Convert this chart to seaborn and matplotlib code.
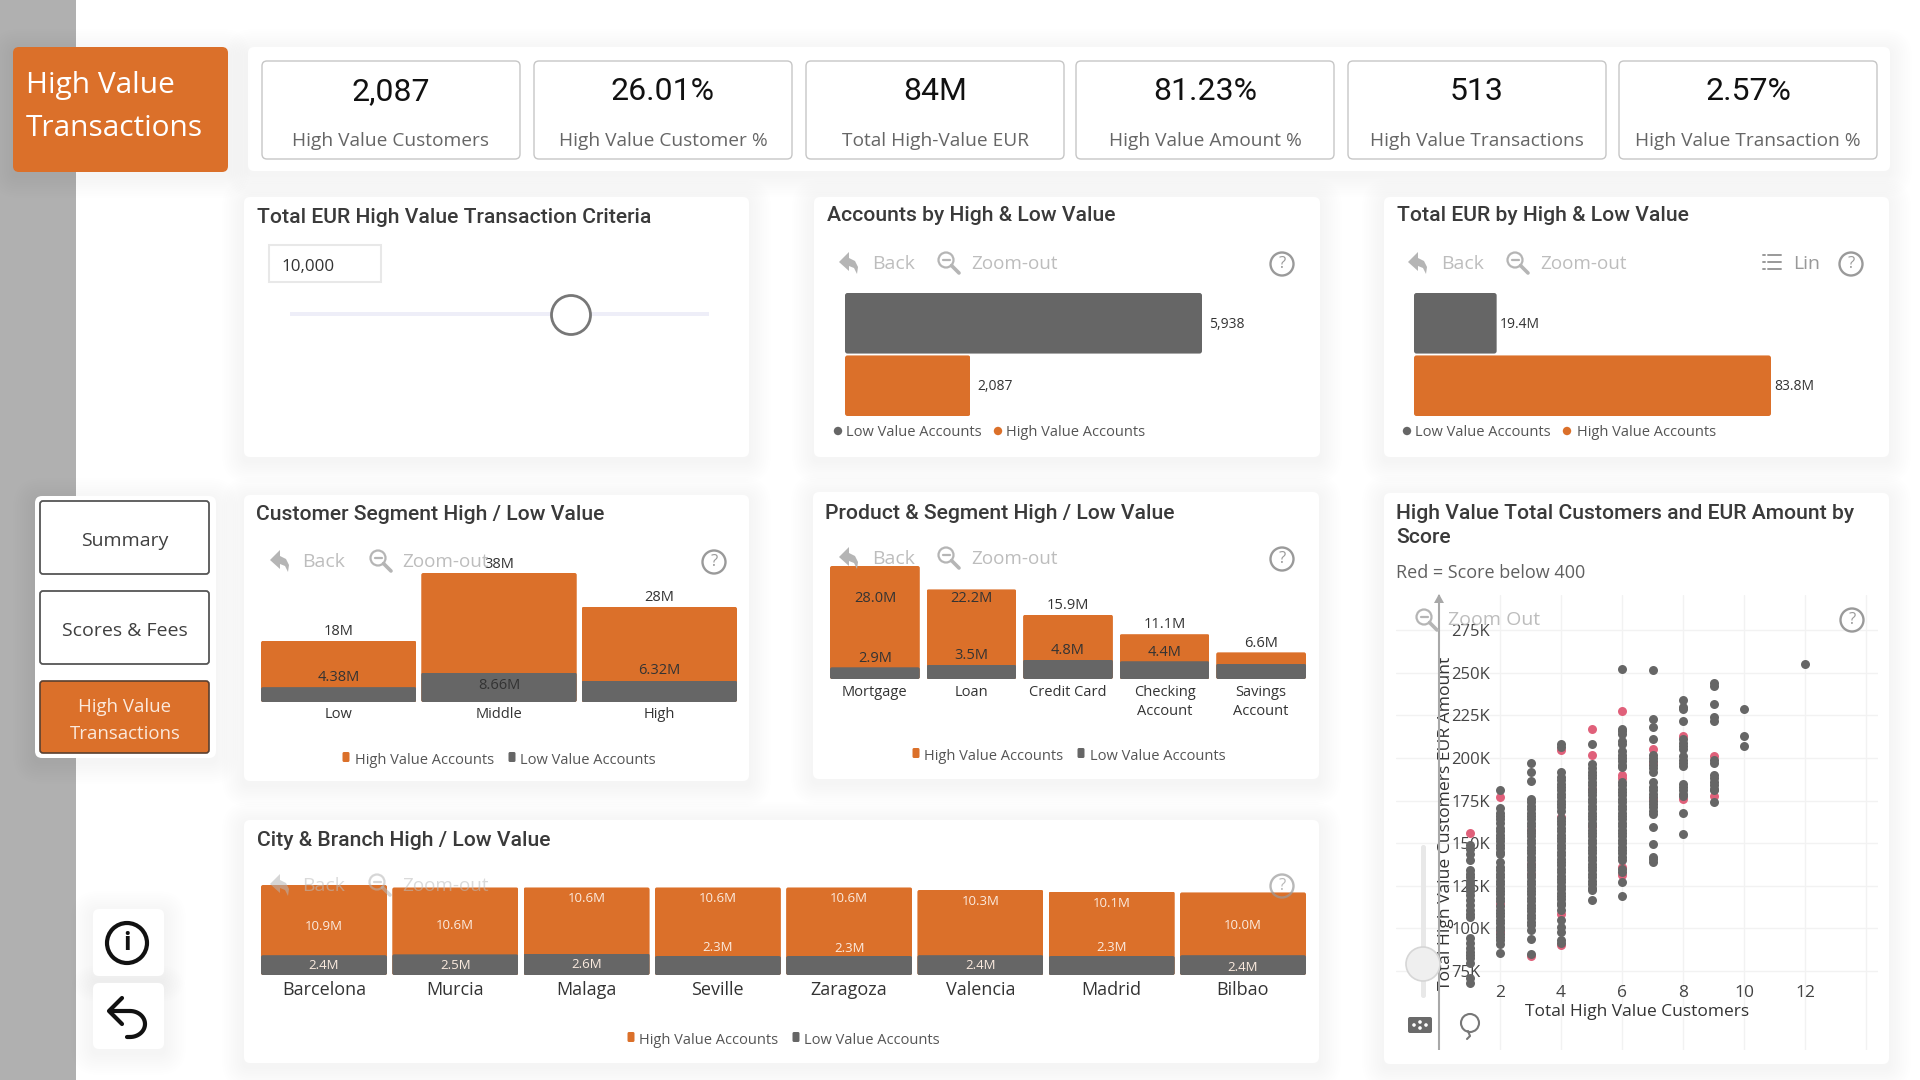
import numpy as np
import pandas as pd
import matplotlib
matplotlib.use("Agg")
import matplotlib.pyplot as plt
from matplotlib.patches import FancyBboxPatch, Circle, Rectangle, Polygon
from matplotlib.transforms import IdentityTransform
import seaborn as sns

# ---------- data ----------
kpi_values = ["2,087", "26.01%", "84M", "81.23%", "513", "2.57%"]
kpi_names = ["High Value Customers", "High Value Customer %", "Total High-Value EUR",
             "High Value Amount %", "High Value Transactions", "High Value Transaction %"]

value_groups = ["Low Value Accounts", "High Value Accounts"]
accounts_by_value = [5938, 2087]
eur_by_value = [19.4, 83.8]

segments = ["Low", "Middle", "High"]
segment_high = [18, 38, 28]
segment_low = [4.38, 8.66, 6.32]

products = ["Mortgage", "Loan", "Credit Card", "Checking\nAccount", "Savings\nAccount"]
product_high = [28.0, 22.2, 15.9, 11.1, 6.6]
product_low = [2.9, 3.5, 4.8, 4.4, 3.8]

cities = ["Barcelona", "Murcia", "Malaga", "Seville", "Zaragoza", "Valencia", "Madrid", "Bilbao"]
city_high = [10.9, 10.6, 10.6, 10.6, 10.6, 10.3, 10.1, 10.0]
city_low = [2.4, 2.5, 2.6, 2.3, 2.3, 2.4, 2.3, 2.4]

# Customer count -> total EUR (thousands), ordinary scores
gray_1 = [148.7, 146.7, 143.8, 139.9, 134, 132, 130, 128, 126, 124, 122, 119.4, 116.5, 113.6,
          110.7, 108.7, 106.4, 94.1, 91.6, 88.3, 86.3, 84.4, 82.4, 79.9, 70.7, 67.8]
gray_2 = [181.4, 170.5, 168, 166, 164, 162, 159, 157, 155, 153, 151, 149, 147, 145, 143.5, 139,
          136, 134, 132, 130, 128, 126, 124, 122, 120, 118, 116, 113, 111, 109, 107, 105, 103,
          101, 99, 97, 95, 93, 91, 85.3]
gray_3 = [197.2, 191.6, 186.5, 176, 174, 172, 170, 168, 166, 164, 162, 160, 158, 156, 154, 152,
          150, 148, 146, 144, 142, 140, 138, 136, 134, 132, 130, 128, 126, 124, 122, 120, 118,
          116, 114, 112, 110, 108, 106, 104, 102, 99, 93.7, 85]
gray_4 = [208.5, 206.5, 191.5, 189, 187, 185, 183, 181, 179, 177, 175, 173, 171, 169, 165, 163,
          161, 159, 157, 155, 153, 151, 149, 147, 145, 143, 141, 139, 137, 135, 133, 131, 129,
          127, 125, 123, 121, 119, 117, 115, 113.6, 110.7, 104.8, 100.9, 98, 93, 91.5]
gray_5 = [208, 196.4, 194, 192, 190, 188, 186, 184, 182, 180, 178, 176, 174, 172, 170, 168, 166,
          164, 162, 160, 158, 156, 154, 152, 150, 148, 146, 144, 142, 140, 138, 136, 134, 132,
          130, 128, 126, 124, 122.4, 116.5]
gray_6 = [252, 217, 216, 214, 210, 208, 204, 202, 200, 198, 196, 194.5, 185.7, 184, 182, 180, 178,
          176, 174, 172, 170, 168, 166, 164, 162, 160, 158, 156, 154, 152, 150, 148, 146, 144,
          142, 140, 135, 133, 127, 119]
gray_7 = [251.6, 222.7, 218, 211, 202, 200, 198, 196, 194, 191.6, 185.7, 183, 181, 179, 177, 175,
          173, 171, 169, 167, 159.8, 149.3, 142, 140.5, 139]
gray_8 = [234, 230, 228.5, 222, 211, 209, 207, 205, 201, 199, 197, 195.5, 185, 183, 181, 179,
          177.5, 168, 155.5]
gray_9 = [244, 242, 231.7, 224, 222, 199, 197, 190, 188, 186, 184, 182, 181, 174]
gray_10 = [228.6, 213, 206.8]
gray_12 = [255.3]

# Same axes, scores below 400
pink_1 = [155.7]
pink_2 = [177.3, 114.6, 98]
pink_3 = [158, 138, 132, 84]
pink_4 = [204.5, 165.5, 108.5, 90.5]
pink_5 = [217, 201.5, 182, 160]
pink_6 = [227.6, 190, 188, 136, 131.5]
pink_7 = [205, 197, 176]
pink_8 = [213, 176]
pink_9 = [201, 177.5]

gray_groups = {1: gray_1, 2: gray_2, 3: gray_3, 4: gray_4, 5: gray_5, 6: gray_6,
               7: gray_7, 8: gray_8, 9: gray_9, 10: gray_10, 12: gray_12}
pink_groups = {1: pink_1, 2: pink_2, 3: pink_3, 4: pink_4, 5: pink_5, 6: pink_6,
               7: pink_7, 8: pink_8, 9: pink_9}

# ---------- styling ----------
ORANGE = "#DB702A"
GRAY = "#666666"
PINK = "#E0607A"
TITLE = "#3A3A3A"
GHOST = "#BDBDBD"

sns.set_theme(style="white")
plt.rcParams["font.family"] = ["Open Sans", "DejaVu Sans"]
HEAD_FONT = ["Roboto", "DejaVu Sans"]

W, H = 1920, 1080
fig = plt.figure(figsize=(W / 100, H / 100), dpi=100, facecolor="white")


def page_axes(z):
    ax = fig.add_axes([0, 0, 1, 1], zorder=z)
    ax.set_xlim(0, W)
    ax.set_ylim(H, 0)
    ax.axis("off")
    ax.patch.set_alpha(0)
    return ax


def chart_axes(left, top, right, bottom, z=3):
    ax = fig.add_axes([left / W, 1 - bottom / H, (right - left) / W, (bottom - top) / H], zorder=z)
    ax.patch.set_alpha(0)
    return ax


back = page_axes(0)
front = page_axes(5)


def card(ax, x0, y0, x1, y1, fc="white", ec="none", lw=0, r=6, shadow=True, z=1):
    if shadow:
        for i in range(10):
            g = 2.2 * (i + 1)
            ax.add_patch(FancyBboxPatch((x0 - g, y0 - g + 4), x1 - x0 + 2 * g, y1 - y0 + 2 * g,
                                        boxstyle=f"round,pad=0,rounding_size={r + g}",
                                        fc="black", ec="none", alpha=0.0045, zorder=z - 0.5))
    ax.add_patch(FancyBboxPatch((x0, y0), x1 - x0, y1 - y0, boxstyle=f"round,pad=0,rounding_size={r}",
                                fc=fc, ec=ec, lw=lw, zorder=z))


def help_icon(x, y, alpha=1.0, c="#9A9A9A"):
    front.add_patch(Circle((x, y), 11.5, fc="none", ec=c, lw=1.7, alpha=alpha))
    front.text(x, y, "?", ha="center", va="center", fontsize=12, color=c, alpha=alpha)


def back_icon(x, y, alpha=1.0):
    pts = [(-10, -1), (0, -11), (0, -5), (6, -2), (9, 4), (8, 11), (5, 5), (0, 3), (0, 8)]
    front.add_patch(Polygon([(x + a, y + b) for a, b in pts], closed=True, fc="#B5B5B5", ec="none", alpha=alpha))


def zoom_icon(x, y, alpha=1.0):
    front.add_patch(Circle((x - 3, y - 3), 7.5, fc="none", ec="#B5B5B5", lw=1.6, alpha=alpha))
    front.plot([x - 6.5, x + 0.5], [y - 3, y - 3], color="#B5B5B5", lw=1.6, alpha=alpha)
    front.plot([x + 2.5, x + 10], [y + 2.5, y + 10], color="#B5B5B5", lw=2.6, alpha=alpha,
               solid_capstyle="round")


def toolbar(xa, xb, xm, xz, xq, y, alpha=1.0):
    back_icon(xa, y, alpha)
    front.text(xb, y + 1, "Back", ha="left", va="center", fontsize=14, color=GHOST, alpha=alpha)
    zoom_icon(xm, y, alpha)
    front.text(xz, y + 1, "Zoom-out", ha="left", va="center", fontsize=13.6, color=GHOST, alpha=alpha)
    help_icon(xq, y + 1, 1 if alpha == 1 else 0.7)


def panel_title(x, y, text):
    back.text(x, y + 1.5, text, ha="left", va="center", fontsize=15.2, color=TITLE,
              family=HEAD_FONT, fontweight="medium", zorder=3)


def legend_row(y, entries, square=False):
    y += 2
    for mx, label, tx, color in entries:
        if square:
            front.add_patch(FancyBboxPatch((mx - 3.5, y - 8), 7, 10, boxstyle="round,pad=0,rounding_size=1.5",
                                           fc=color, ec="none"))
        else:
            front.add_patch(Circle((mx, y - 2), 4.2, fc=color, ec="none"))
        front.text(tx, y, label, ha="left", va="center", fontsize=10.5, color="#555555")


def finish_bars(ax):
    ax.set_xlabel("")
    ax.set_ylabel("")
    sns.despine(ax=ax, left=True, bottom=True)


def round_bars(ax, r=2.5):
    # Softens the bar corners by clipping each bar to a rounded outline at its final size
    renderer = fig.canvas.get_renderer()
    for bar in ax.patches:
        box = bar.get_window_extent(renderer)
        if box.width <= 0 or box.height <= 0:
            continue
        outline = FancyBboxPatch((box.x0, box.y0), box.width, box.height,
                                 boxstyle=f"round,pad=0,rounding_size={r}", transform=IdentityTransform())
        bar.set_clip_path(outline)


# ---------- page furniture ----------
back.add_patch(Rectangle((0, 0), 76, H, fc="#B0B0B0", ec="none", zorder=0.1))

card(back, 13, 47, 228, 172, fc=ORANGE, z=2)
back.text(26, 86, "High Value", fontsize=21.5, color="white", va="center", ha="left", zorder=3)
back.text(26, 128, "Transactions", fontsize=21.5, color="white", va="center", ha="left", zorder=3)

card(back, 248, 47, 1890, 171)
kpi_left = [262, 534, 806, 1076, 1348, 1619]
for x0, val, name in zip(kpi_left, kpi_values, kpi_names):
    card(back, x0, 61, x0 + 258, 159, ec="#C6C6C6", lw=1.0, r=5, shadow=False, z=2)
    back.text(x0 + 129, 92, val, ha="center", va="center", fontsize=23, color="#111111",
              family=HEAD_FONT, zorder=3)
    back.text(x0 + 129, 141, name, ha="center", va="center", fontsize=13.8, color="#666666", zorder=3)

# Navigation
card(back, 35, 496, 216, 758, r=7, z=2)
for y0, y1, label in zip([501, 591], [574, 664], ["Summary", "Scores & Fees"]):
    card(back, 40, y0, 209, y1, ec="#555555", lw=1.3, r=3, shadow=False, z=3)
    back.text(125, (y0 + y1) / 2 + 3, label, ha="center", va="center", fontsize=14, color="#404040", zorder=4)
card(back, 40, 681, 209, 753, fc=ORANGE, ec="#5A4030", lw=1.2, r=3, shadow=False, z=3)
back.text(125, 707, "High Value", ha="center", va="center", fontsize=13.4, color="#FBE9DC", zorder=4)
back.text(125, 734, "Transactions", ha="center", va="center", fontsize=13.4, color="#FBE9DC", zorder=4)

card(back, 93, 909, 164, 976, r=6, z=2)
card(back, 93, 983, 164, 1049, r=6, z=2)
back.add_patch(Circle((127, 943), 20, fc="none", ec="#111111", lw=3, zorder=3))
back.text(127, 944, "i", ha="center", va="center", fontsize=18, color="#111111", fontweight="bold", zorder=4)
# Undo arrow
arc_t = np.linspace(-np.pi / 2, np.pi / 2, 30)
back.plot(130 + 15 * np.cos(arc_t), 1024 + 13 * np.sin(arc_t), color="#111111", lw=3, zorder=4)
back.plot([110, 130], [1011, 1011], color="#111111", lw=3, zorder=4)
back.plot([130, 127], [1037, 1037], color="#111111", lw=3, zorder=4, solid_capstyle="round")
back.plot([122, 109, 122], [998, 1011, 1024], color="#111111", lw=3, zorder=4, solid_capstyle="round")

# Panels
panel_boxes = [(244, 197, 749, 457), (814, 197, 1320, 457), (1384, 197, 1889, 457),
               (244, 495, 749, 781), (813, 492, 1319, 779), (1384, 493, 1889, 1064),
               (244, 820, 1319, 1063)]
for box in panel_boxes:
    card(back, *box)

panel_title(257, 216, "Total EUR High Value Transaction Criteria")
panel_title(827, 214, "Accounts by High & Low Value")
panel_title(1397, 214, "Total EUR by High & Low Value")
panel_title(256, 513, "Customer Segment High / Low Value")
panel_title(825, 512, "Product & Segment High / Low Value")
panel_title(1396, 512, "High Value Total Customers and EUR Amount by")
panel_title(1396, 536, "Score")
panel_title(257, 839, "City & Branch High / Low Value")
back.text(1396, 573.5, "Red = Score below 400", ha="left", va="center", fontsize=13, color="#606060", zorder=3)

# Threshold slider
back.add_patch(Rectangle((269, 245), 112, 37, fc="white", ec="#E8E8E8", lw=1.5, zorder=2))
back.text(281, 267, "10,000", ha="left", va="center", fontsize=12.2, color="#333333", zorder=3)
back.add_patch(Rectangle((290, 312), 419, 4, fc="#EEEEF8", ec="none", zorder=2))
back.add_patch(Circle((571, 315), 19.5, fc="white", ec="#777777", lw=2, zorder=3))

# ---------- accounts by value ----------
ax = chart_axes(845, 293, 1202, 416)
sns.barplot(y=value_groups, x=accounts_by_value, hue=value_groups, palette=[GRAY, ORANGE],
            width=0.97, saturation=1, legend=False, linewidth=0, ax=ax)
ax.set_xlim(0, max(accounts_by_value))
ax.set_ylim(1.485, -0.485)
ax.set_xticks([])
ax.set_yticks([])
finish_bars(ax)
round_bars(ax)
for i, v in enumerate(accounts_by_value):
    ax.annotate(f"{v:,}", (v, i), xytext=(5, -0.7), textcoords="offset points", va="center", ha="left",
                fontsize=10, color="#333333")
toolbar(849, 872, 949, 971, 1282, 263)
legend_row(431, [(838, value_groups[0], 846, GRAY), (998, value_groups[1], 1006, ORANGE)])

# ---------- total EUR by value ----------
ax = chart_axes(1414, 293, 1771, 416)
sns.barplot(y=value_groups, x=eur_by_value, hue=value_groups, palette=[GRAY, ORANGE],
            width=0.97, saturation=1, legend=False, linewidth=0, ax=ax)
ax.set_xlim(0, max(eur_by_value))
ax.set_ylim(1.485, -0.485)
ax.set_xticks([])
ax.set_yticks([])
finish_bars(ax)
round_bars(ax)
for i, v in enumerate(eur_by_value):
    ax.annotate(f"{v:.1f}M", (v, i), xytext=(2, -0.7), textcoords="offset points", va="center", ha="left",
                fontsize=10, color="#333333")
toolbar(1418, 1441, 1518, 1540, 1851, 263)
for dy in (-7, 0, 7):
    front.plot([1763, 1765], [262 + dy, 262 + dy], color="#999999", lw=1.4)
    front.plot([1768, 1781], [262 + dy, 262 + dy], color="#999999", lw=1.4)
front.text(1793, 264, "Lin", ha="left", va="center", fontsize=14, color="#999999")
legend_row(431, [(1407, value_groups[0], 1415, GRAY), (1567, value_groups[1], 1577, ORANGE)])


# ---------- overlapping column charts ----------
def overlap_columns(box, cats, high, low, width, top_value, tick_size, tick_pad):
    ax = chart_axes(*box)
    sns.barplot(x=cats, y=high, color=ORANGE, width=width, saturation=1, linewidth=0, ax=ax)
    sns.barplot(x=cats, y=low, color=GRAY, width=width, saturation=1, linewidth=0, ax=ax)
    ax.set_xlim(-width / 2, len(cats) - 1 + width / 2)
    ax.set_ylim(0, top_value)
    ax.set_yticks([])
    ax.tick_params(axis="x", length=0, pad=tick_pad, labelsize=tick_size, labelcolor="#333333")
    finish_bars(ax)
    round_bars(ax, r=2)
    for label in ax.get_xticklabels():
        label.set_linespacing(1.3)
    return ax


def value_label(ax, i, v, text, dy, color="#333333", size=10.5):
    ax.annotate(text, (i, v), xytext=(0, -(dy + 1) * 0.72), textcoords="offset points", ha="center",
                va="center", fontsize=size, color=color, zorder=6, annotation_clip=False)


# Customer segment
toolbar(280, 302, 381, 402, 714, 561)
ax = overlap_columns((261, 573, 737, 702), segments, segment_high, segment_low, 0.97, max(segment_high), 10.5, 3.5)
low_segment_offset = [-11, 12, -11]
for i, (h, l) in enumerate(zip(segment_high, segment_low)):
    value_label(ax, i, h, f"{h}M", -10)
    value_label(ax, i, l, f"{l:.2f}M", low_segment_offset[i])
legend_row(758, [(346, "High Value Accounts", 355, ORANGE), (512, "Low Value Accounts", 520, GRAY)], square=True)

# Product and segment
toolbar(849, 872, 949, 971, 1282, 558)
ax = overlap_columns((830, 566, 1306, 679), products, product_high, product_low, 0.93, max(product_high), 10.5, 4.5)
high_product_offset = [31, 8, -10, -11, -10]
for i, (h, l) in enumerate(zip(product_high, product_low)):
    value_label(ax, i, h, f"{h:.1f}M", high_product_offset[i])
    if i < len(products) - 1:  # the smallest low-value label is hidden
        value_label(ax, i, l, f"{l:.1f}M", -10)
legend_row(754, [(916, "High Value Accounts", 924, ORANGE), (1081, "Low Value Accounts", 1090, GRAY)], square=True)

# City and branch
ax = overlap_columns((261, 885, 1306, 975), cities, city_high, city_low, 0.96, max(city_high), 13, 4)
high_city_offset = [40, 37, 10, 10, 10, 11, 11, 32]
low_city_offset = [9, 10, 10, -10, -9, 9, -10, 11]
for i, (h, l) in enumerate(zip(city_high, city_low)):
    value_label(ax, i, h, f"{h:.1f}M", high_city_offset[i], color="#FBEBDF", size=9.5)
    value_label(ax, i, l, f"{l:.1f}M", low_city_offset[i], color="#FBEBDF", size=9.5)
toolbar(280, 302, 380, 402, 1282, 885, alpha=0.55)
legend_row(1038, [(631, "High Value Accounts", 639, ORANGE), (796, "Low Value Accounts", 804, GRAY)], square=True)

# ---------- scatter ----------
PX_X = 30.5                 # pixels per customer
PX_Y = 42.6 / 25            # pixels per thousand EUR
ax = chart_axes(1396, 595, 1878, 1050, z=2)
ax.set_xlim((1396 - 1439) / PX_X, (1878 - 1439) / PX_X)
ax.set_ylim(75 - (1050 - 971) / PX_Y, 75 + (971 - 595) / PX_Y)


def long_form(groups):
    rows = [(k, v) for k, vals in groups.items() for v in vals]
    return pd.DataFrame(rows, columns=["customers", "amount"])


sns.scatterplot(data=long_form(pink_groups), x="customers", y="amount", color=PINK, s=42, linewidth=0, ax=ax, zorder=3)
sns.scatterplot(data=long_form(gray_groups), x="customers", y="amount", color=GRAY, s=42, linewidth=0, ax=ax, zorder=4)

ax.set_xticks(range(2, 15, 2), [str(v) for v in range(2, 13, 2)] + [""])
y_ticks = list(range(75, 276, 25))
ax.set_yticks(y_ticks, [f"{v}K" for v in y_ticks])
ax.grid(True, color="#F2F2F2", lw=1)
ax.set_axisbelow(True)
sns.despine(ax=ax, left=True, bottom=True)
ax.tick_params(axis="x", length=0, pad=-47, labelsize=12.5, labelcolor="#444444")
ax.tick_params(axis="y", length=0, pad=-40, labelsize=12, labelcolor="#444444")
for label in ax.get_yticklabels():
    label.set_horizontalalignment("left")
ax.axvline(0, color="#A8A8A8", lw=1.5, zorder=2)
ax.set_xlabel("Total High Value Customers", fontsize=12.5, color="#333333")
ax.xaxis.set_label_coords((1637 - 1396) / 482, 1 - (1012 - 595) / 455)
ax.xaxis.label.set_verticalalignment("center")
ax.set_ylabel("Total High Value Customers EUR Amount", fontsize=12.6, color="#333333", zorder=7)
ax.yaxis.set_label_coords((1446 - 1396) / 482, 1 - (823 - 595) / 455)
ax.yaxis.label.set_verticalalignment("center")

# Scatter tools
front.add_patch(Polygon([(1439, 594), (1434, 603), (1444, 603)], fc="#A8A8A8", ec="none"))
zoom_icon(1427, 620)
front.text(1448, 620, "Zoom Out", ha="left", va="center", fontsize=14, color=GHOST)
help_icon(1852, 620)
front.add_patch(FancyBboxPatch((1421, 845), 5, 153, boxstyle="round,pad=0,rounding_size=2.5", fc="#E8E8E8", ec="none"))
front.add_patch(Circle((1423, 964), 17, fc="#EFEFEF", ec="#D6D6D6", lw=1.2))
front.add_patch(FancyBboxPatch((1408, 1017), 24, 16, boxstyle="round,pad=0,rounding_size=2", fc="#6A6A6A", ec="none"))
for dx, dy in [(-6, 0), (6, 0), (0, -3), (0, 3)]:
    front.add_patch(Circle((1420 + dx, 1025 + dy), 1.8, fc="white", ec="none"))
front.add_patch(Circle((1470, 1023), 9, fc="none", ec="#777777", lw=1.5))
front.plot([1468, 1470, 1467], [1031, 1036, 1039], color="#777777", lw=1.5)

fig.savefig("out.png", dpi=100, facecolor="white")
